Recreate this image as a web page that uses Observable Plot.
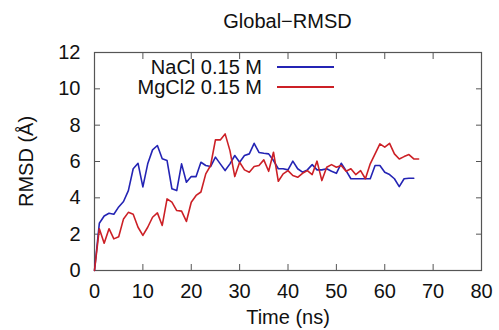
<!DOCTYPE html>
<html>
<head>
<meta charset="utf-8">
<script src="https://cdn.jsdelivr.net/npm/d3@7"></script>
<script src="https://cdn.jsdelivr.net/npm/@observablehq/plot@0.6"></script>
<style>
  html, body { margin: 0; padding: 0; background: #fff; }
  #wrap { position: relative; width: 499px; height: 330px; font-family: "Liberation Sans", Arial, sans-serif; }
  #title { position: absolute; left: 94px; width: 387px; top: 10px; text-align: center; font-size: 20px; color: #111; }
  #legend { position: absolute; left: 120px; top: 57px; width: 214px; font-size: 20px; color: #111; }
  #legend .row { display: flex; align-items: center; justify-content: flex-end; height: 20px; }
  #legend .sw { display: block; width: 57px; height: 2px; margin-left: 15px; }
</style>
</head>
<body>
<div id="wrap">
  <div id="title">Global−RMSD</div>
  <div id="chart"></div>
  <div id="legend"></div>
</div>
<script>
const seriesNames = ["NaCl 0.15 M", "MgCl2 0.15 M"];
const seriesColors = ["#2424b4", "#cc2026"];
const naclTime = d3.range(0, 67);
const naclRmsd = [0, 2.6, 3.0, 3.15, 3.1, 3.5, 3.8, 4.4, 5.6, 5.9,
  4.6, 5.87, 6.64, 6.88, 6.15, 6.05, 4.5, 4.4, 5.87, 4.86,
  5.17, 5.17, 5.96, 5.78, 5.72, 6.24, 5.87, 5.5, 5.87, 6.33,
  5.96, 6.33, 6.42, 7.0, 6.5, 6.45, 6.42, 6.05, 5.6, 5.6,
  5.54, 6.02, 5.6, 5.41, 5.54, 5.83, 5.54, 5.54, 5.6, 5.46,
  5.35, 5.9, 5.5, 5.05, 5.05, 5.05, 5.05, 5.05, 5.78, 5.78,
  5.41, 5.28, 5.05, 4.62, 5.05, 5.08, 5.08];
const mgclTime = d3.range(0, 68);
const mgclRmsd = [0, 2.3, 1.5, 2.3, 1.74, 1.86, 2.84, 3.2, 3.1, 2.38,
  1.93, 2.38, 2.93, 3.17, 2.48, 3.94, 3.76, 3.3, 3.27, 2.7,
  3.76, 4.13, 4.32, 5.32, 5.78, 7.19, 7.19, 7.52, 6.6, 5.17,
  5.96, 5.54, 5.41, 5.72, 5.78, 6.09, 5.46, 6.51, 4.91, 5.32,
  5.5, 5.23, 5.13, 5.35, 5.5, 5.28, 6.02, 4.95, 5.68, 5.83,
  5.68, 5.78, 5.46, 5.6, 5.28, 5.5, 5.05, 5.87, 6.42, 6.97,
  6.79, 7.0, 6.42, 6.14, 6.27, 6.38, 6.14, 6.14];
const xTicks = [0, 10, 20, 30, 40, 50, 60, 70, 80];
const yTicks = [0, 2, 4, 6, 8, 10, 12];

const nacl = naclTime.map((t, i) => ({t, v: naclRmsd[i]}));
const mgcl = mgclTime.map((t, i) => ({t, v: mgclRmsd[i]}));

const axisColor = "#555";
const chart = Plot.plot({
  width: 499,
  height: 330,
  marginLeft: 94,
  marginRight: 18,
  marginTop: 52,
  marginBottom: 60,
  style: {fontFamily: "'Liberation Sans', Arial, sans-serif", fontSize: "20px", color: "#111", background: "transparent"},
  x: {domain: [0, 80]},
  y: {domain: [0, 12]},
  marks: [
    Plot.frame({stroke: axisColor, strokeWidth: 1.2}),
    Plot.axisX(xTicks, {anchor: "bottom", tickSize: -6, text: null, label: null, stroke: axisColor}),
    Plot.axisX(xTicks, {anchor: "top", tickSize: -6, text: null, label: null, stroke: axisColor}),
    Plot.axisY(yTicks, {anchor: "left", tickSize: -6, text: null, label: null, stroke: axisColor}),
    Plot.axisY(yTicks, {anchor: "right", tickSize: -6, text: null, label: null, stroke: axisColor}),
    Plot.axisX(xTicks, {anchor: "bottom", tickSize: 0, tickPadding: 13, label: "Time (ns)", labelAnchor: "center", labelArrow: "none", labelOffset: 53, fill: "#111"}),
    Plot.axisY(yTicks, {anchor: "left", tickSize: 0, tickPadding: 14, label: "RMSD (Å)", labelAnchor: "center", labelArrow: "none", labelOffset: 76, fill: "#111"}),
    Plot.line(nacl, {x: "t", y: "v", stroke: seriesColors[0], strokeWidth: 1.6}),
    Plot.line(mgcl, {x: "t", y: "v", stroke: seriesColors[1], strokeWidth: 1.6})
  ]
});
document.getElementById("chart").appendChild(chart);

const legend = document.getElementById("legend");
seriesNames.forEach((name, i) => {
  const row = document.createElement("div");
  row.className = "row";
  const label = document.createElement("span");
  label.textContent = name;
  const sw = document.createElement("span");
  sw.className = "sw";
  sw.style.background = seriesColors[i];
  row.appendChild(label);
  row.appendChild(sw);
  legend.appendChild(row);
});
</script>
</body>
</html>
